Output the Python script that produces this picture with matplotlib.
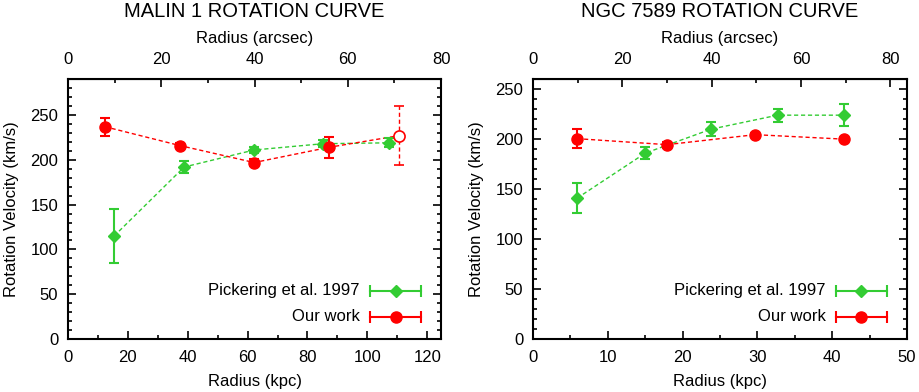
import matplotlib
matplotlib.use('Agg')
import matplotlib.pyplot as plt
from matplotlib.ticker import MultipleLocator, FixedLocator

plt.rcParams['font.family'] = ['Liberation Sans', 'DejaVu Sans']

GREEN = '#33cc33'
RED = '#ff0000'

# ---- Malin 1 ----
malin_pick_r = [15.4, 38.8, 62.2, 85.2, 107.3]
malin_pick_v = [115, 192, 211, 218, 219]
malin_pick_e = [30, 7, 3, 4, 5]
malin_our_r = [12.3, 37.3, 62.2, 87.2]
malin_our_v = [237, 216, 197, 214]
malin_our_e = [10, 3, 4, 12]
malin_last_r = [110.6]
malin_last_v = [227]
malin_last_e = [33]
malin_kpc_per_arcsec = 1.558

# ---- NGC 7589 ----
ngc_pick_r = [5.9, 15.0, 23.8, 32.7, 41.6]
ngc_pick_v = [141, 186, 210, 224, 224]
ngc_pick_e = [15, 6, 7, 6.5, 11]
ngc_our_r = [5.9, 17.9, 29.7, 41.6]
ngc_our_v = [200.5, 194.5, 204.5, 200]
ngc_our_e = [9.5, 3, 2, 2]
ngc_kpc_per_arcsec = 0.597

arcsec_major = [0, 20, 40, 60, 80]
arcsec_minor = [10, 30, 50, 70]

FS = 12


def draw_panel(ax, title, pick_r, pick_v, pick_e, our_r, our_v, our_e,
               xmax, ymax, xmajor, xminor, kpc_per_arcsec,
               last_r=None, last_v=None, last_e=None):
    # connecting dashed lines
    ax.plot(pick_r, pick_v, color=GREEN, ls=(0, (3, 2)), lw=1, zorder=2)
    line_r = list(our_r) + (list(last_r) if last_r else [])
    line_v = list(our_v) + (list(last_v) if last_v else [])
    ax.plot(line_r, line_v, color=RED, ls=(0, (3, 2)), lw=1, zorder=2)

    ax.errorbar(pick_r, pick_v, yerr=pick_e, fmt='D', color=GREEN, ms=6,
                elinewidth=1.5, capsize=3.5, capthick=1.5, zorder=3)
    ax.errorbar(our_r, our_v, yerr=our_e, fmt='o', color=RED, ms=8,
                elinewidth=1.5, capsize=3.5, capthick=1.5, zorder=4)
    if last_r:
        eb = ax.errorbar(last_r, last_v, yerr=last_e, fmt='o', color=RED,
                         mfc='white', ms=8, mew=1.2, elinewidth=1,
                         capsize=3.5, capthick=1, zorder=4)
        eb[2][0].set_linestyle((0, (3, 2)))

    ax.set_xlim(0, xmax)
    ax.set_ylim(0, ymax)
    ax.xaxis.set_major_locator(MultipleLocator(xmajor))
    ax.xaxis.set_minor_locator(MultipleLocator(xminor))
    ax.yaxis.set_major_locator(MultipleLocator(50))
    ax.yaxis.set_minor_locator(MultipleLocator(10))
    ax.tick_params(which='both', direction='in', right=True, labelsize=FS,
                   width=1.2)
    ax.tick_params(which='major', length=6)
    ax.tick_params(which='minor', length=3)
    ax.tick_params(axis='x', which='both', top=False, pad=8)
    ax.tick_params(axis='y', which='both', pad=7)
    for s in ax.spines.values():
        s.set_linewidth(1.5)
    ax.set_xlabel('Radius (kpc)', fontsize=FS, labelpad=6)
    ax.set_ylabel('Rotation Velocity (km/s)', fontsize=FS, labelpad=8.5)

    top = ax.secondary_xaxis('top', functions=(lambda x: x / kpc_per_arcsec,
                                                lambda a: a * kpc_per_arcsec))
    top.xaxis.set_major_locator(FixedLocator(arcsec_major))
    top.xaxis.set_minor_locator(FixedLocator(arcsec_minor))
    top.tick_params(which='both', direction='in', labelsize=FS, width=1.2,
                    pad=9)
    top.tick_params(which='major', length=6)
    top.tick_params(which='minor', length=3)
    top.set_xlabel('Radius (arcsec)', fontsize=FS, labelpad=6)
    ax.set_title(title, fontsize=14.5, pad=10)

    # legend drawn by hand in gnuplot style
    entries = [('Pickering et al. 1997', GREEN, 'D', 6, 0.186),
               ('Our work', RED, 'o', 8, 0.086)]
    x0, x1, xt = 0.81, 0.946, 0.782
    for label, color, mk, ms, yy in entries:
        ax.plot([x0, x1], [yy, yy], color=color, lw=1.5,
                transform=ax.transAxes, clip_on=False, zorder=5)
        ax.plot([x0, x1], [yy, yy], ls='none', marker='|', ms=8, mew=1.5,
                color=color, transform=ax.transAxes, zorder=5)
        ax.plot([(x0 + x1) / 2], [yy], ls='none', marker=mk, ms=ms,
                color=color, transform=ax.transAxes, zorder=5)
        ax.text(xt, yy, label, transform=ax.transAxes, ha='right',
                va='center', fontsize=FS)


fig = plt.figure(figsize=(9.19, 3.92), dpi=100)
ax1 = fig.add_axes([0.074, 0.135, 0.406, 0.663])
ax2 = fig.add_axes([0.580, 0.135, 0.407, 0.663])

draw_panel(ax1, 'MALIN 1 ROTATION CURVE', malin_pick_r, malin_pick_v,
           malin_pick_e, malin_our_r, malin_our_v, malin_our_e,
           80 * malin_kpc_per_arcsec, 290, 20, 10, malin_kpc_per_arcsec,
           malin_last_r, malin_last_v, malin_last_e)
draw_panel(ax2, 'NGC 7589 ROTATION CURVE', ngc_pick_r, ngc_pick_v,
           ngc_pick_e, ngc_our_r, ngc_our_v, ngc_our_e,
           50, 260, 10, 5, ngc_kpc_per_arcsec)

fig.savefig('out.png', dpi=100, facecolor='white')
